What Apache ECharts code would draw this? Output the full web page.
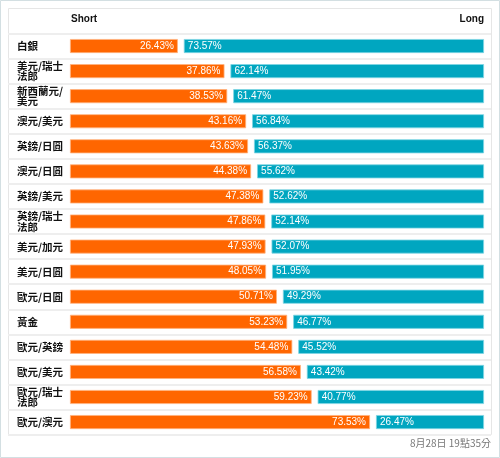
<!DOCTYPE html>
<html>
<head>
<meta charset="utf-8">
<script src="https://cdn.jsdelivr.net/npm/echarts@6/dist/echarts.min.js"></script>
<style>
html,body{margin:0;padding:0;background:#fff;}
#main{width:500px;height:458px;}
</style>
</head>
<body>
<div id="main"></div>
<script>
var categories = ['白銀','美元/瑞士法郎','新西蘭元/美元','澳元/美元','英鎊/日圓','澳元/日圓','英鎊/美元','英鎊/瑞士法郎','美元/加元','美元/日圓','歐元/日圓','黃金','歐元/英鎊','歐元/美元','歐元/瑞士法郎','歐元/澳元'];
var shortValues = [26.43,37.86,38.53,43.16,43.63,44.38,47.38,47.86,47.93,48.05,50.71,53.23,54.48,56.58,59.23,73.53];
var longValues = [73.57,62.14,61.47,56.84,56.37,55.62,52.62,52.14,52.07,51.95,49.29,46.77,45.52,43.42,40.77,26.47];
var headerShort = 'Short';
var headerLong = 'Long';
var timestamp = '8月28日 19點35分';

var GAP = 1.47;
var gapValues = categories.map(function(){ return GAP; });
var FONT = '"Liberation Sans", Arial, sans-serif';
var CJK = '"Noto Sans CJK TC", "Noto Sans CJK SC", sans-serif';

var chart = echarts.init(document.getElementById('main'), null, {renderer:'canvas'});
var top0 = 33.5, h0 = 401.1;
chart.setOption({
  animation:false,
  backgroundColor:'#fff',
  grid:[
    {left:70, width:414, top:top0, height:h0},
    {left:8, right:9, top:top0, height:h0}
  ],
  xAxis:[
    {gridIndex:0, type:'value', min:0, max:100+GAP, show:false},
    {gridIndex:1, type:'value', min:0, max:1, show:false}
  ],
  yAxis:[
    {gridIndex:0, type:'category', data:categories, inverse:true,
     axisLine:{show:false}, axisTick:{show:false}, splitLine:{show:false},
     axisLabel:{align:'left', margin:53, color:'#111', fontFamily:CJK, fontSize:10.5, fontWeight:'bold',
       width:50, overflow:'break', lineHeight:10.5}},
    {gridIndex:1, type:'category', data:categories, inverse:true, z:10,
     axisLine:{show:false}, axisTick:{show:false}, axisLabel:{show:false},
     splitLine:{show:true, lineStyle:{color:'#eeeeee', width:2}}}
  ],
  series:[
    {type:'bar', stack:'s', data:shortValues, barWidth:14,
     itemStyle:{color:'#ff6600', borderColor:'#ffb27f', borderWidth:0.8},
     label:{show:true, position:'insideRight', distance:4, color:'#fff', fontFamily:FONT, fontSize:10,
       formatter:function(p){return p.value.toFixed(2)+'%';}}},
    {type:'bar', stack:'s', data:gapValues, barWidth:14, itemStyle:{color:'rgba(0,0,0,0)'}, silent:true},
    {type:'bar', stack:'s', data:longValues, barWidth:14,
     itemStyle:{color:'#00a6c0', borderColor:'#7fd6e3', borderWidth:0.8},
     label:{show:true, position:'insideLeft', distance:4, color:'#fff', fontFamily:FONT, fontSize:10,
       formatter:function(p){return p.value.toFixed(2)+'%';}}}
  ],
  graphic:[
    {type:'rect', shape:{x:0.5,y:0.5,width:499,height:457}, style:{fill:'none', stroke:'#d3dfe2', lineWidth:1}, z:-1},
    {type:'rect', shape:{x:8.5,y:8.5,width:483,height:426}, style:{fill:'none', stroke:'#e6e6e6', lineWidth:1}, z:-1},
    {type:'text', left:71, top:14, style:{text:headerShort, fill:'#111', font:'bold 10px '+FONT}},
    {type:'text', right:16, top:14, style:{text:headerLong, fill:'#111', font:'bold 10px '+FONT}},
    {type:'text', right:9, top:438, style:{text:timestamp, fill:'#777', font:'10px '+CJK}}
  ]
});
</script>
</body>
</html>
